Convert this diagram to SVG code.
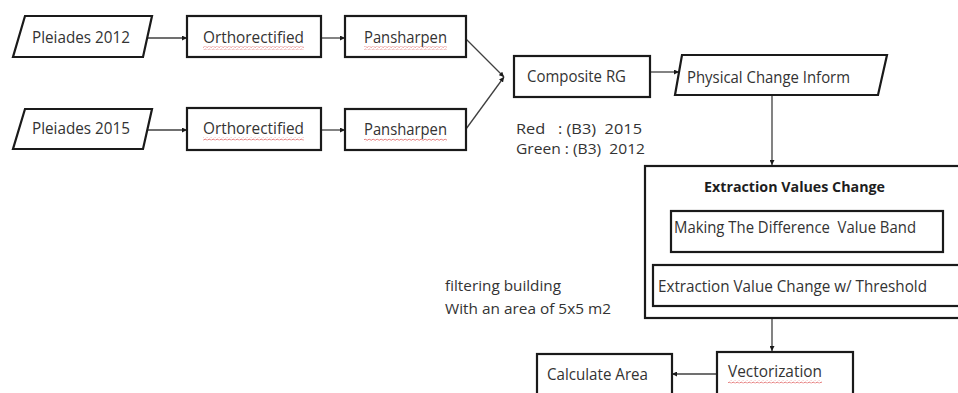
<svg xmlns="http://www.w3.org/2000/svg" width="958" height="393" viewBox="0 0 958 393">
<style>
  .box{fill:#fff;stroke:#1a1a1a;stroke-width:2.2}
  .t{font-family:"Open Sans","Noto Sans","Liberation Sans",sans-serif;font-size:16.5px;fill:#333}
  .n{font-family:"Open Sans","Noto Sans","Liberation Sans",sans-serif;font-size:15px;fill:#333}
  .b{font-family:"Open Sans","Noto Sans","Liberation Sans",sans-serif;font-size:15px;font-weight:bold;fill:#1e1e1e}
  .c{fill:none;stroke:#404040;stroke-width:1.3}
</style>
<defs>
  <marker id="ah" viewBox="0 0 10 10" refX="10" refY="5" markerWidth="5" markerHeight="5" orient="auto" markerUnits="userSpaceOnUse">
    <path d="M0 0 L10 5 L0 10 Z" fill="#1a1a1a"/>
  </marker>
  <pattern id="wave" width="4" height="3" patternUnits="userSpaceOnUse">
    <path d="M0 2 Q1 0.2 2 1.5 T4 2" fill="none" stroke="#e06060" stroke-width="0.8"/>
  </pattern>
</defs>
<rect width="958" height="393" fill="#fff"/>

<g id="connectors">
  <line class="c" x1="147" y1="38" x2="187" y2="38" marker-end="url(#ah)"/>
  <line class="c" x1="321" y1="38" x2="345" y2="38" marker-end="url(#ah)"/>
  <line class="c" x1="144" y1="130" x2="187" y2="130" marker-end="url(#ah)"/>
  <line class="c" x1="321" y1="130" x2="345" y2="130" marker-end="url(#ah)"/>
  <line class="c" x1="466" y1="39" x2="504" y2="77" marker-end="url(#ah)"/>
  <line class="c" x1="466" y1="129" x2="504" y2="77" marker-end="url(#ah)"/>
  <line class="c" x1="650" y1="72" x2="679" y2="72" marker-end="url(#ah)"/>
  <line class="c" x1="772" y1="95" x2="772" y2="165" marker-end="url(#ah)"/>
  <line class="c" x1="772" y1="318" x2="772" y2="351" marker-end="url(#ah)"/>
  <line class="c" x1="717" y1="374" x2="672" y2="374" marker-end="url(#ah)"/>
</g>

<g id="pleiades2012">
  <polygon class="box" points="25,16 152,16 143,57 13,57"/>
  <text class="t" x="32" y="43" textLength="98" lengthAdjust="spacingAndGlyphs">Pleiades 2012</text>
</g>
<g id="ortho1">
  <rect class="box" x="187" y="16" width="134" height="41"/>
  <text class="t" x="203" y="43" textLength="101" lengthAdjust="spacingAndGlyphs">Orthorectified</text>
  <rect x="203" y="46.5" width="101" height="3" fill="url(#wave)"/>
</g>
<g id="pansharpen1">
  <rect class="box" x="345" y="16" width="121" height="41"/>
  <text class="t" x="364" y="43" textLength="83" lengthAdjust="spacingAndGlyphs">Pansharpen</text>
  <rect x="364" y="46.5" width="83" height="3" fill="url(#wave)"/>
</g>

<g id="pleiades2015">
  <polygon class="box" points="25,109 152,109 143,149 13,149"/>
  <text class="t" x="32" y="134" textLength="98" lengthAdjust="spacingAndGlyphs">Pleiades 2015</text>
</g>
<g id="ortho2">
  <rect class="box" x="187" y="108" width="134" height="42"/>
  <text class="t" x="203" y="134" textLength="101" lengthAdjust="spacingAndGlyphs">Orthorectified</text>
  <rect x="203" y="137.5" width="101" height="3" fill="url(#wave)"/>
</g>
<g id="pansharpen2">
  <rect class="box" x="345" y="109" width="121" height="41"/>
  <text class="t" x="364" y="135" textLength="83" lengthAdjust="spacingAndGlyphs">Pansharpen</text>
  <rect x="364" y="138.5" width="83" height="3" fill="url(#wave)"/>
</g>

<g id="composite">
  <rect class="box" x="514" y="56" width="136" height="41"/>
  <text class="t" x="527" y="82" textLength="99" lengthAdjust="spacingAndGlyphs">Composite RG</text>
</g>
<g id="bands-note">
  <text class="n" x="516" y="134" textLength="126" lengthAdjust="spacingAndGlyphs" xml:space="preserve">Red   : (B3)  2015</text>
  <text class="n" x="516" y="154" textLength="129" lengthAdjust="spacingAndGlyphs" xml:space="preserve">Green : (B3)  2012</text>
</g>
<g id="physical">
  <polygon class="box" points="682,55 887,55 878,95 675,95"/>
  <text class="t" x="687" y="83" textLength="163" lengthAdjust="spacingAndGlyphs">Physical Change Inform</text>
</g>

<g id="extraction">
  <rect class="box" x="645" y="166" width="330" height="152"/>
  <text class="b" x="704" y="192" textLength="181" lengthAdjust="spacingAndGlyphs">Extraction Values Change</text>
</g>
<g id="difference">
  <rect class="box" x="671" y="211" width="272" height="41"/>
  <text class="t" x="674" y="233" textLength="242" lengthAdjust="spacingAndGlyphs" xml:space="preserve">Making The Difference  Value Band</text>
</g>
<g id="threshold">
  <rect class="box" x="653" y="265" width="320" height="41"/>
  <text class="t" x="658" y="292" textLength="269" lengthAdjust="spacingAndGlyphs">Extraction Value Change w/ Threshold</text>
</g>

<g id="filter-note">
  <text class="n" x="445" y="291" textLength="116" lengthAdjust="spacingAndGlyphs">filtering building</text>
  <text class="n" x="445" y="314" textLength="166" lengthAdjust="spacingAndGlyphs">With an area of 5x5 m2</text>
</g>

<g id="vectorization">
  <rect class="box" x="717" y="352" width="136" height="50"/>
  <text class="t" x="728" y="377" textLength="94" lengthAdjust="spacingAndGlyphs">Vectorization</text>
  <rect x="728" y="380.5" width="94" height="3" fill="url(#wave)"/>
</g>
<g id="calculate">
  <rect class="box" x="537" y="354" width="135" height="50"/>
  <text class="t" x="547" y="380" textLength="101" lengthAdjust="spacingAndGlyphs">Calculate Area</text>
</g>
</svg>
